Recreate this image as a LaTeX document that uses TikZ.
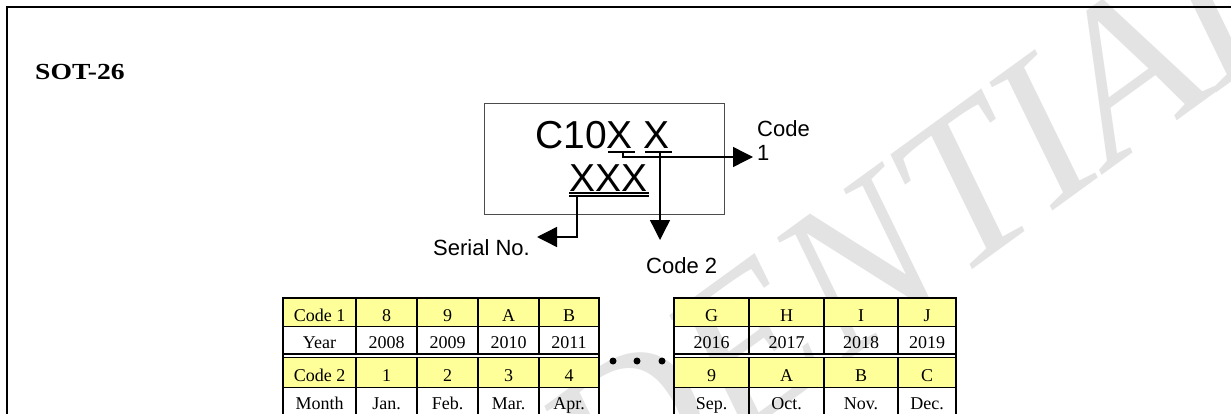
\documentclass[tikz,border=0pt]{standalone}
\usepackage{fontspec}
\setmainfont{Liberation Serif}
\setsansfont{Liberation Sans}
\usetikzlibrary{arrows.meta}
\definecolor{cellyellow}{HTML}{FFFF99}
\definecolor{wmgray}{HTML}{E3E3E3}
\tikzset{
  lbl/.style={font=\sffamily\fontsize{22}{24}\selectfont, inner sep=0pt},
  marktext/.style={font=\sffamily\fontsize{39}{41}\selectfont, inner sep=0pt, anchor=base west},
  conn/.style={line width=1.4pt, -{Triangle[length=20pt,width=20pt]}},
  uline/.style={line width=1.5pt},
  cell/.style={font=\fontsize{18}{20}\selectfont, inner sep=0pt, anchor=base},
  thin rule/.style={line width=1pt},
  dbl rule/.style={line width=1.5pt},
  vrule/.style={line width=1.6pt},
  outer/.style={line width=2.5pt},
}
\begin{document}
\begin{tikzpicture}[x=1pt,y=-1pt]
\useasboundingbox (0,0) rectangle (1231,414);
% watermark
\begin{scope}
\clip (0,0) rectangle (1231,414);
\node[rotate=36, text=wmgray, font=\itshape\fontsize{215}{215}\selectfont, inner sep=0pt] (wm) at (660,410) {CONFIDENTIAL};
\end{scope}
% frame
\draw[line width=2pt] (7,414) -- (7,6.7) -- (1231,6.7);
% title
\node[font=\bfseries\fontsize{23}{25}\selectfont, inner sep=0pt, anchor=base west] (title) at (35,80) {\scalebox{1.2}[1]{SOT-26}};
% marking box
\node[draw=black!70, line width=0.9pt, minimum width=240pt, minimum height=111pt, inner sep=0pt, anchor=north west] (pkg) at (484,103) {};
\node[marktext] (line1) at (535,149) {C10X X};
\node[marktext] (line2) at (569,192) {XXX};
% underlines
\draw[uline] (608,152) -- (635,152);
\draw[uline] (645,152) -- (672,152);
\draw[line width=1.2pt] (569,193) -- (649,193);
\draw[line width=1.2pt] (569,196) -- (649,196);
% connector anchor points
\coordinate (u1) at (623,152);
\coordinate (u2) at (660,152);
\coordinate (u3) at (577,196);
\coordinate (c1tip) at (753,157);
\coordinate (c2tip) at (660,240);
\coordinate (stip) at (537,237);
\draw[conn] (u2) -- (c2tip);
\draw[conn] (u1) |- (c1tip);
\draw[conn] (u3) |- (stip);
% labels
\node[lbl, align=left, anchor=north west] (code1) at (757,120.5) {Code\\1};
\node[lbl, anchor=base west] (code2) at (646,273) {Code 2};
\node[lbl, anchor=base west] (serial) at (433,255) {Serial No.};
% tables: fills
\fill[cellyellow] (283,298) rectangle (599,326);
\fill[cellyellow] (283,357.5) rectangle (599,387);
\fill[cellyellow] (674,298) rectangle (956,326);
\fill[cellyellow] (674,357.5) rectangle (956,387);
% horizontal rules
\foreach \a/\b in {283/599, 674/956}{
  \draw[thin rule] (\a,326) -- (\b,326);
  \draw[dbl rule] (\a,354) -- (\b,354);
  \draw[dbl rule] (\a,357.5) -- (\b,357.5);
  \draw[thin rule] (\a,387) -- (\b,387);
}
% inner verticals
\foreach \x in {356,417,478,539,749,824,898}{
  \draw[vrule] (\x,298) -- (\x,354);
  \draw[vrule] (\x,357.5) -- (\x,416);
}
% outer borders
\draw[outer] (283,416) -- (283,298) -- (599,298) -- (599,416);
\draw[outer] (674,416) -- (674,298) -- (956,298) -- (956,416);
% left table text
\foreach \t [count=\i] in {Code 1,8,9,A,B}{
  \pgfmathsetmacro{\xm}{{319.5,386.5,447.5,508.5,569}[\i-1]}
  \node[cell] (la\i) at (\xm,321) {\t};
}
\foreach \t [count=\i] in {Year,2008,2009,2010,2011}{
  \pgfmathsetmacro{\xm}{{319.5,386.5,447.5,508.5,569}[\i-1]}
  \node[cell] (lb\i) at (\xm,348.5) {\t};
}
\foreach \t [count=\i] in {Code 2,1,2,3,4}{
  \pgfmathsetmacro{\xm}{{319.5,386.5,447.5,508.5,569}[\i-1]}
  \node[cell] (lc\i) at (\xm,381.5) {\t};
}
\foreach \t [count=\i] in {Month,Jan.,Feb.,Mar.,Apr.}{
  \pgfmathsetmacro{\xm}{{319.5,386.5,447.5,508.5,569}[\i-1]}
  \node[cell] (ld\i) at (\xm,409.5) {\t};
}
% right table text
\foreach \t [count=\i] in {G,H,I,J}{
  \pgfmathsetmacro{\xm}{{711.5,786.5,861,927}[\i-1]}
  \node[cell] (ra\i) at (\xm,321) {\t};
}
\foreach \t [count=\i] in {2016,2017,2018,2019}{
  \pgfmathsetmacro{\xm}{{711.5,786.5,861,927}[\i-1]}
  \node[cell] (rb\i) at (\xm,348.5) {\t};
}
\foreach \t [count=\i] in {9,A,B,C}{
  \pgfmathsetmacro{\xm}{{711.5,786.5,861,927}[\i-1]}
  \node[cell] (rc\i) at (\xm,381.5) {\t};
}
\foreach \t [count=\i] in {Sep.,Oct.,Nov.,Dec.}{
  \pgfmathsetmacro{\xm}{{711.5,786.5,861,927}[\i-1]}
  \node[cell] (rd\i) at (\xm,409.5) {\t};
}
% dots
\fill (613,361) circle (3.5);
\fill (637,361) circle (3.5);
\fill (662,361) circle (3.5);
\end{tikzpicture}
\end{document}
